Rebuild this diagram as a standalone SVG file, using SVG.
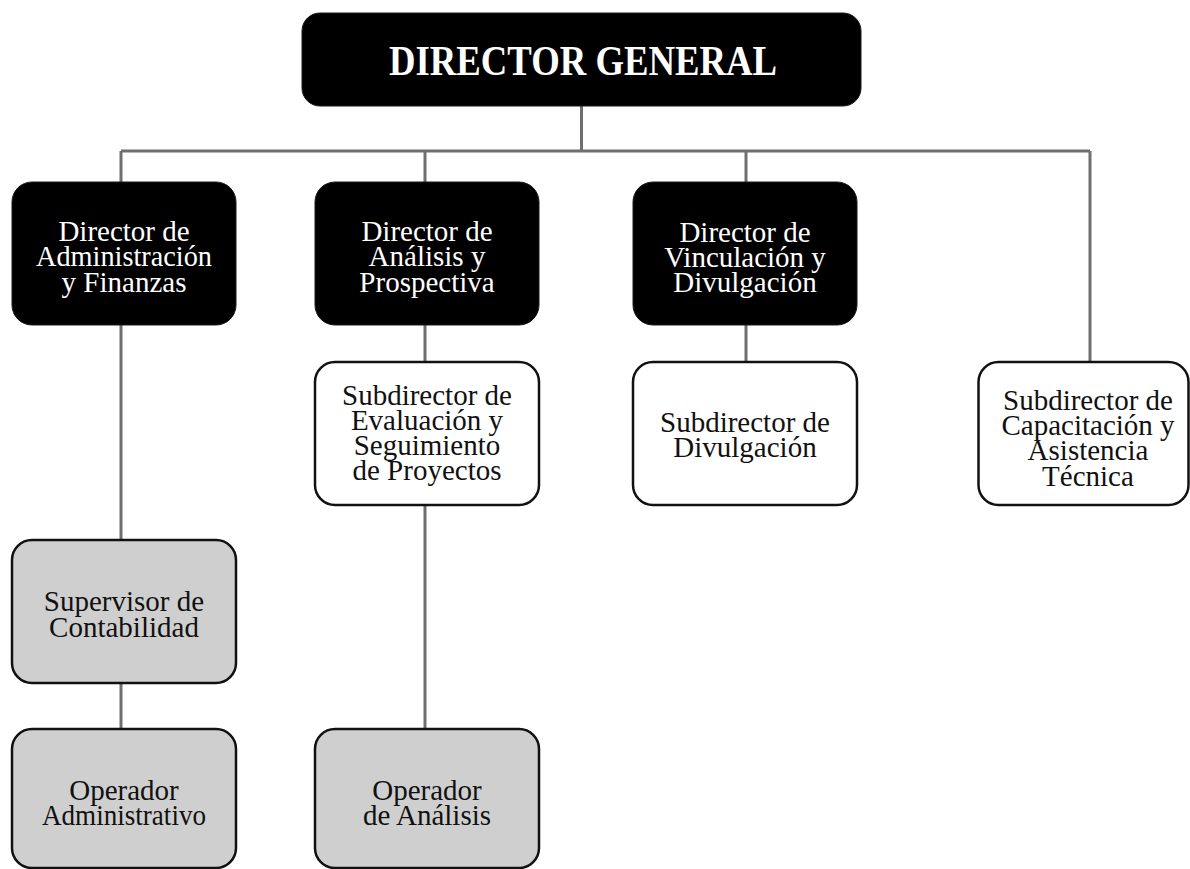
<svg xmlns="http://www.w3.org/2000/svg" width="1190" height="869" viewBox="0 0 1190 869">
  <style>
    .box-dark { fill: #000000; stroke: #1a1a1a; stroke-width: 1; }
    .box-white { fill: #ffffff; stroke: #111111; stroke-width: 2.5; }
    .box-gray { fill: #cfcfcf; stroke: #111111; stroke-width: 2.5; }
    .link { stroke: #6f6f6f; stroke-width: 3; fill: none; }
    text { font-family: "Liberation Serif", "Times New Roman", serif; font-size: 29px; text-anchor: middle; }
    .light { fill: #ffffff; }
    .ink { fill: #111111; }
    .title { font-size: 42px; font-weight: bold; }
  </style>
  <rect width="1190" height="869" fill="#ffffff"/>

  <!-- connectors -->
  <g id="connectors">
    <line class="link" x1="581.5" y1="105" x2="581.5" y2="151"/>
    <line class="link" x1="121" y1="151" x2="1090" y2="151"/>
    <line class="link" x1="121" y1="151" x2="121" y2="182"/>
    <line class="link" x1="425" y1="151" x2="425" y2="182"/>
    <line class="link" x1="746" y1="151" x2="746" y2="182"/>
    <line class="link" x1="1090" y1="151" x2="1090" y2="362"/>
    <line class="link" x1="121" y1="325" x2="121" y2="540"/>
    <line class="link" x1="121" y1="683" x2="121" y2="729"/>
    <line class="link" x1="425" y1="325" x2="425" y2="362"/>
    <line class="link" x1="425" y1="505" x2="425" y2="729"/>
    <line class="link" x1="746" y1="325" x2="746" y2="362"/>
  </g>

  <g id="director-general">
    <rect class="box-dark" x="302" y="13" width="559" height="93" rx="18"/>
    <text class="light title" x="583" y="75" textLength="388" lengthAdjust="spacingAndGlyphs">DIRECTOR GENERAL</text>
  </g>

  <g id="dir-administracion">
    <rect class="box-dark" x="12" y="182" width="224" height="143" rx="20"/>
    <text class="light" x="124"><tspan x="124" y="241">Director de</tspan><tspan x="124" y="266" textLength="176" lengthAdjust="spacingAndGlyphs">Administración</tspan><tspan x="124" y="292">y Finanzas</tspan></text>
  </g>

  <g id="dir-analisis">
    <rect class="box-dark" x="315" y="182" width="224" height="143" rx="20"/>
    <text class="light" x="427"><tspan x="427" y="241">Director de</tspan><tspan x="427" y="266">Análisis y</tspan><tspan x="427" y="292">Prospectiva</tspan></text>
  </g>

  <g id="dir-vinculacion">
    <rect class="box-dark" x="633" y="182" width="224" height="143" rx="20"/>
    <text class="light" x="745"><tspan x="745" y="242">Director de</tspan><tspan x="745" y="267">Vinculación y</tspan><tspan x="745" y="292">Divulgación</tspan></text>
  </g>

  <g id="sub-evaluacion">
    <rect class="box-white" x="315" y="362" width="224" height="143" rx="20"/>
    <text class="ink" x="427"><tspan x="427" y="405">Subdirector de</tspan><tspan x="427" y="430">Evaluación y</tspan><tspan x="427" y="455">Seguimiento</tspan><tspan x="427" y="480">de Proyectos</tspan></text>
  </g>

  <g id="sub-divulgacion">
    <rect class="box-white" x="633" y="362" width="224" height="143" rx="20"/>
    <text class="ink" x="745"><tspan x="745" y="432">Subdirector de</tspan><tspan x="745" y="457">Divulgación</tspan></text>
  </g>

  <g id="sub-capacitacion">
    <rect class="box-white" x="978.5" y="362" width="210" height="143" rx="20"/>
    <text class="ink" x="1088"><tspan x="1088" y="410">Subdirector de</tspan><tspan x="1088" y="435">Capacitación y</tspan><tspan x="1088" y="460">Asistencia</tspan><tspan x="1088" y="486">Técnica</tspan></text>
  </g>

  <g id="sup-contabilidad">
    <rect class="box-gray" x="12" y="540" width="224" height="143" rx="20"/>
    <text class="ink" x="124"><tspan x="124" y="611">Supervisor de</tspan><tspan x="124" y="637">Contabilidad</tspan></text>
  </g>

  <g id="op-administrativo">
    <rect class="box-gray" x="12" y="729" width="224" height="139" rx="20"/>
    <text class="ink" x="124"><tspan x="124" y="800">Operador</tspan><tspan x="124" y="825" textLength="164" lengthAdjust="spacingAndGlyphs">Administrativo</tspan></text>
  </g>

  <g id="op-analisis">
    <rect class="box-gray" x="315" y="729" width="224" height="139" rx="20"/>
    <text class="ink" x="427"><tspan x="427" y="800">Operador</tspan><tspan x="427" y="825">de Análisis</tspan></text>
  </g>
</svg>
